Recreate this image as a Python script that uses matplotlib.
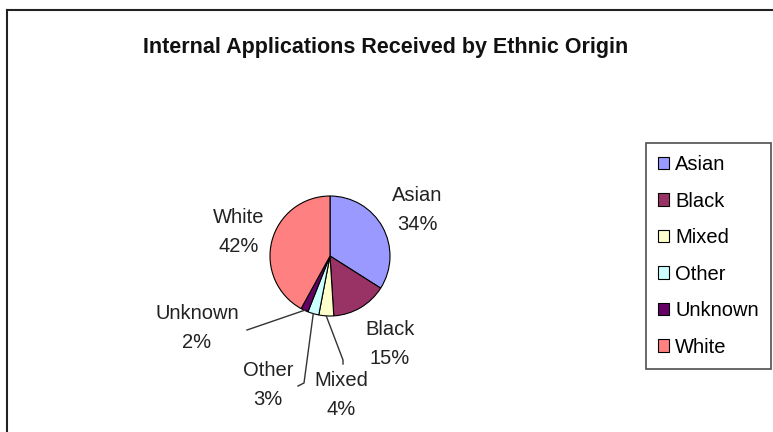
import matplotlib.pyplot as plt
import numpy as np

categories = ["Asian", "Black", "Mixed", "Other", "Unknown", "White"]
percents = [34, 15, 4, 3, 2, 42]
colors = ["#9999FF", "#993366", "#FFFFCC", "#CCFFFF", "#660066", "#FF8080"]

W, H = 773, 432
plt.rcParams['font.family'] = ['Liberation Sans', 'DejaVu Sans']


def Y(y):
    # pixel row (from top) -> data y
    return H - y


fig = plt.figure(figsize=(W / 100, H / 100), dpi=100)
ax = fig.add_axes([0, 0, 1, 1])

# chart border (cut off at right and bottom)
ax.plot([7, 7], [Y(10), Y(H + 5)], color='#222222', lw=1.5)
ax.plot([7, W + 5], [Y(10), Y(10)], color='#222222', lw=1.5)

ax.text(386, Y(48), "Internal Applications Received by Ethnic Origin",
        ha='center', va='center', fontsize=15.5, fontweight='bold',
        color='#111111')

cx, cy, r = 330, Y(256), 60
wedges, _ = ax.pie(percents, colors=colors, startangle=90, counterclock=False,
                   center=(cx, cy), radius=r, frame=True,
                   wedgeprops=dict(edgecolor='black', linewidth=0.8))
ax.set_xlim(0, W)
ax.set_ylim(0, H)
ax.set_aspect('equal')
ax.axis('off')

label_pos = [(417, 210), (390, 344), (341, 395), (268, 385), (197, 328), (239, 232)]
for cat, p, (lx, ly) in zip(categories, percents, label_pos):
    ax.text(lx, Y(ly), f"{cat}\n{p}%", ha='center', va='center',
            fontsize=14.5, linespacing=1.68, color='#222222')

# leader lines for the small slices
leaders = {"Mixed": [(343, 360), (343, 364)],
           "Other": [(304, 383), (298, 386)],
           "Unknown": [(247, 330)]}
for w, cat in zip(wedges, categories):
    if cat not in leaders:
        continue
    mid = np.deg2rad((w.theta1 + w.theta2) / 2)
    pts = [(cx + r * np.cos(mid), cy + r * np.sin(mid))]
    pts += [(x, Y(y)) for x, y in leaders[cat]]
    xs, ys = zip(*pts)
    ax.plot(xs, ys, color='#333333', lw=1)

leg = ax.legend(wedges, categories, loc='upper left',
                bbox_to_anchor=(646 / W, 1 - 143 / H), fontsize=14.5,
                frameon=True, fancybox=False, handlelength=0.55,
                handleheight=0.55, handletextpad=0.3, labelspacing=0.87,
                borderpad=0.6, borderaxespad=0)
leg.get_frame().set_edgecolor('#222222')
leg.get_frame().set_linewidth(1.2)

fig.savefig('out.png', dpi=100)
